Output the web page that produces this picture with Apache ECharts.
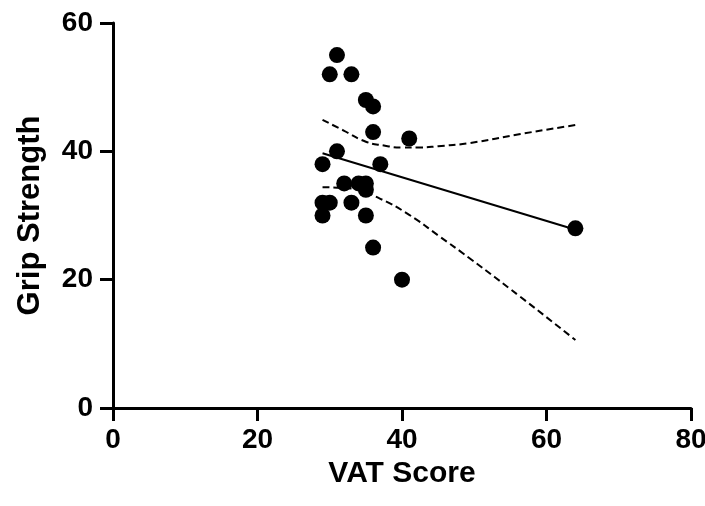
<!DOCTYPE html>
<html>
<head>
<meta charset="utf-8">
<script src="https://cdn.jsdelivr.net/npm/echarts@6/dist/echarts.min.js"></script>
<style>
	html, body { margin: 0; padding: 0; background: #fff; }
	#chart { width: 705px; height: 506px; }
</style>
</head>
<body>
<div id="chart"></div>
<script>
// VAT score vs grip strength
const vatScore = [31, 30, 33, 35, 36, 36, 41, 31, 29, 37, 32, 34, 35, 35, 29, 30, 33, 29, 35, 36, 40, 64];
const gripStrength = [55, 52, 52, 48, 47, 43, 42, 40, 38, 38, 35, 35, 35, 34, 32, 32, 32, 30, 30, 25, 20, 28];

// fitted line end points
const fitX = [29, 63.7];
const fitY = [39.7, 27.9];

// 95% band, upper and lower
const upperX = [29, 32, 35, 37.5, 40, 42.5, 45, 49.4, 56.4, 64];
const upperY = [44.9, 43.2, 41.5, 40.9, 40.6, 40.6, 40.8, 41.3, 42.7, 44.1];
const lowerX = [29, 33, 37, 41, 45, 49.4, 56.3, 64];
const lowerY = [34.4, 34.2, 32.6, 30.1, 26.9, 23.3, 17.4, 10.6];

const xTicks = [0, 20, 40, 60, 80];
const yTicks = [0, 20, 40, 60];

const pairs = (xs, ys) => xs.map((x, i) => [x, ys[i]]);

const chart = echarts.init(document.getElementById('chart'));

const axisFont = {
	fontFamily: 'Liberation Sans, Arial, sans-serif',
	fontWeight: 'bold',
	color: '#000'
};

chart.setOption({
	animation: false,
	grid: { left: 113, right: 14, top: 23, bottom: 98, outerBoundsMode: 'none' },
	xAxis: {
		type: 'value',
		min: xTicks[0],
		max: xTicks[xTicks.length - 1],
		interval: 20,
		name: 'VAT Score',
		nameLocation: 'middle',
		nameGap: 43,
		nameTextStyle: Object.assign({ fontSize: 30 }, axisFont),
		axisLine: { lineStyle: { color: '#000', width: 3 } },
		axisTick: { length: 13, lineStyle: { color: '#000', width: 3 } },
		axisLabel: Object.assign({ fontSize: 28, margin: 18 }, axisFont),
		splitLine: { show: false }
	},
	yAxis: {
		type: 'value',
		min: yTicks[0],
		max: yTicks[yTicks.length - 1],
		interval: 20,
		name: 'Grip Strength',
		nameLocation: 'middle',
		nameGap: 67,
		nameTextStyle: Object.assign({ fontSize: 31 }, axisFont),
		axisLine: { show: true, lineStyle: { color: '#000', width: 3 } },
		axisTick: { show: true, length: 13, lineStyle: { color: '#000', width: 3 } },
		axisLabel: Object.assign({ fontSize: 28, margin: 20 }, axisFont),
		splitLine: { show: false }
	},
	series: [
		{
			type: 'line',
			data: pairs(upperX, upperY),
			smooth: true,
			symbol: 'none',
			lineStyle: { color: '#000', width: 2, type: [7, 4] },
			z: 1
		},
		{
			type: 'line',
			data: pairs(lowerX, lowerY),
			smooth: true,
			symbol: 'none',
			lineStyle: { color: '#000', width: 2, type: [7, 4] },
			z: 1
		},
		{
			type: 'line',
			data: pairs(fitX, fitY),
			symbol: 'none',
			lineStyle: { color: '#000', width: 2 },
			z: 1
		},
		{
			type: 'scatter',
			data: pairs(vatScore, gripStrength),
			symbolSize: 16,
			itemStyle: { color: '#000', opacity: 1 },
			z: 2
		}
	]
});
</script>
</body>
</html>
